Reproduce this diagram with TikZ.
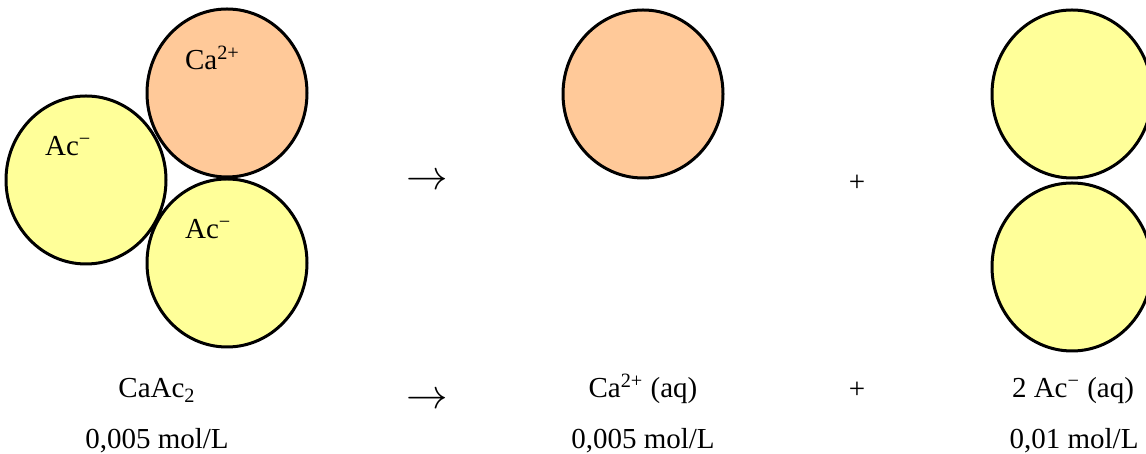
\documentclass[tikz,border=0pt]{standalone}
\usepackage{fontspec}
\setmainfont{Liberation Serif}
\usepackage{xcolor}
\usepackage{tikz}
\definecolor{ionpeach}{HTML}{FFC999}
\definecolor{ionyellow}{HTML}{FFFF99}
\definecolor{ionink}{HTML}{000000}
\newcommand{\ion}[3]{%
  \filldraw[draw=ionink,fill=#3,line width=1.5pt]
    (#1,#2) ellipse [x radius=80, y radius=84];
}
\newcommand{\eqtext}[4]{%
  \node[anchor=base,font=\fontsize{14.5}{17}\selectfont,text=ionink]
    (#1) at (#2,#3) {#4};
}

\begin{document}
\begin{tikzpicture}[x=0.5pt,y=0.5pt,line cap=round,line join=round]
\useasboundingbox (0,0) rectangle (1146,454);
\fill[white] (0,0) rectangle (1146,454);

% solid salt: one calcium ion with two acetate ions
\ion{227}{361}{ionpeach}
\ion{86}{274}{ionyellow}
\ion{227}{191}{ionyellow}
\node[anchor=base west,font=\fontsize{14.5}{17}\selectfont]
  (saltca) at (178,384) {Ca\textsuperscript{2+}};
\node[anchor=base west,font=\fontsize{14.5}{17}\selectfont]
  (saltac1) at (38,298) {Ac\textsuperscript{−}};
\node[anchor=base west,font=\fontsize{14.5}{17}\selectfont]
  (saltac2) at (178,215) {Ac\textsuperscript{−}};

% dissolved ions
\ion{643}{360}{ionpeach}
\ion{1072}{360}{ionyellow}
\ion{1072}{187}{ionyellow}

% arrows and plus signs
\node[font=\fontsize{20.5}{23}\selectfont] (arrtop) at (427,272) {$\rightarrow$};
\node[font=\fontsize{20.5}{23}\selectfont] (arrbot) at (427,53) {$\rightarrow$};
\node[font=\fontsize{14.5}{17}\selectfont] (plustop) at (857,271) {+};
\node[font=\fontsize{14.5}{17}\selectfont] (plusbot) at (857,64) {+};

% formulas and concentrations
\eqtext{fsalt}{157}{56}{CaAc\textsubscript{2}}
\eqtext{fca}{643}{56}{Ca\textsuperscript{2+} (aq)}
\eqtext{fac}{1073}{56}{2 Ac\textsuperscript{−} (aq)}
\eqtext{csalt}{157}{5}{0,005 mol/L}
\eqtext{cca}{643}{5}{0,005 mol/L}
\eqtext{cac}{1074}{5}{0,01 mol/L}

\end{tikzpicture}
\end{document}
